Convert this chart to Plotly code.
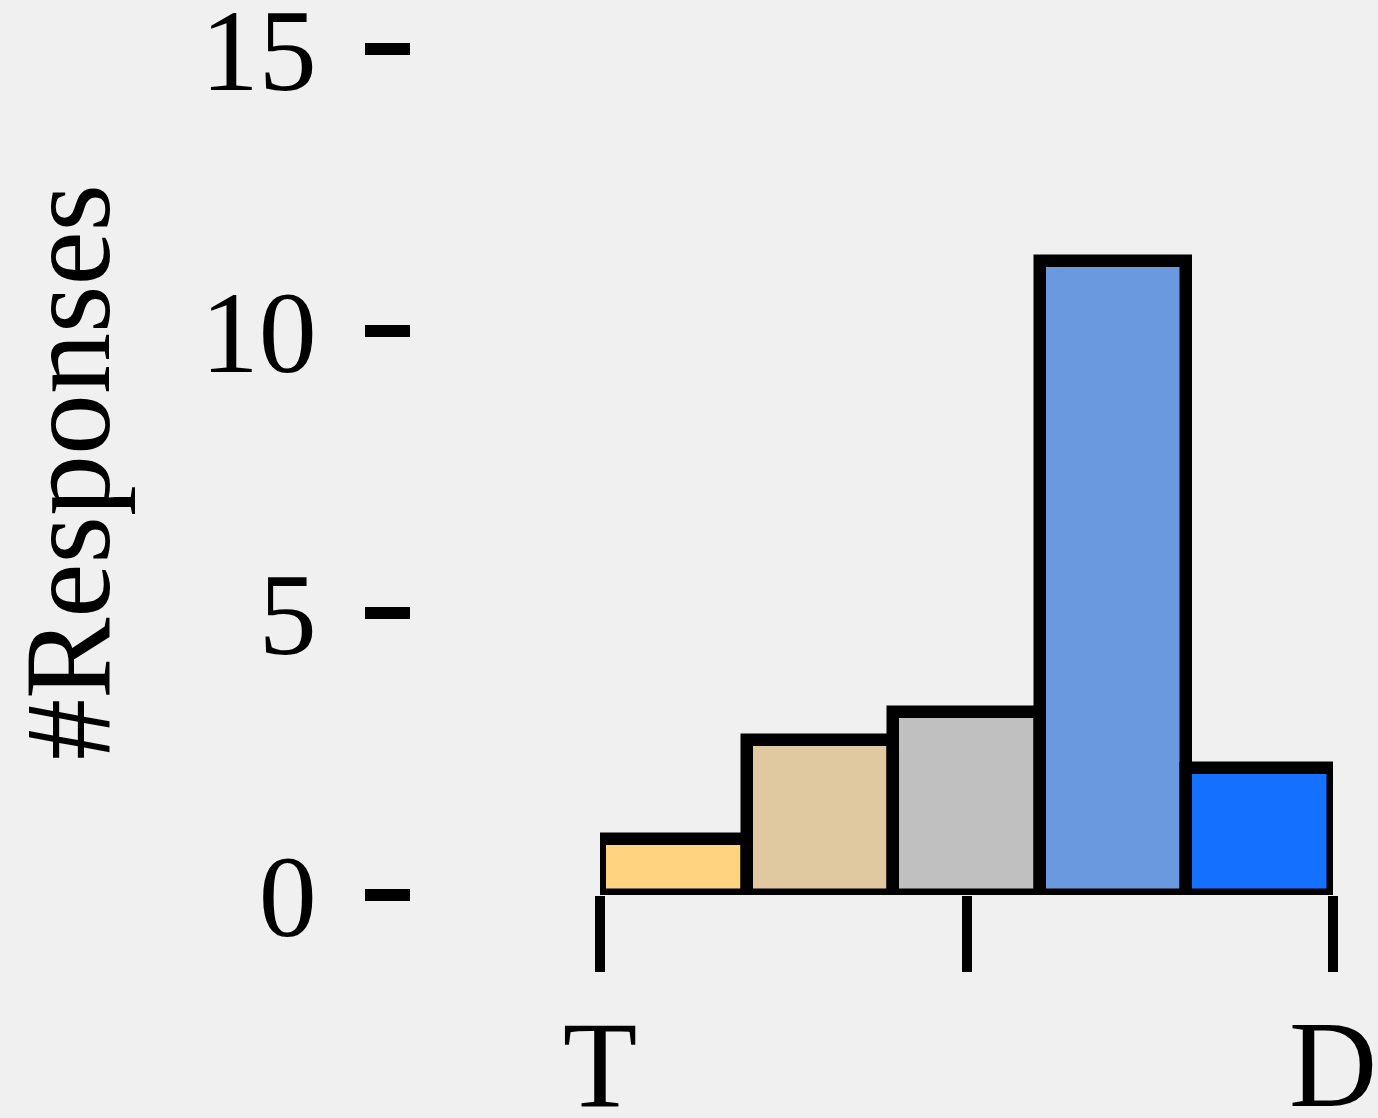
import plotly.graph_objects as go

# Response counts per rating bin, from "T" (left) to "D" (right)
bins = ["1", "2", "3", "4", "5"]
responses = [1.0, 2.75, 3.25, 11.25, 2.25]
bar_colors = ["#FFD37F", "#E0C9A0", "#C0C0C0", "#6A99E0", "#1471FF"]

# Axis ticks
y_ticks = [0, 5, 10, 15]
x_tick_vals = [0, 0.5, 1]
x_tick_text = ["T", "", "D"]

n = len(bins)
bar_width = 1.0 / n
bar_x = [(i + 0.5) * bar_width for i in range(n)]

FONT = "Liberation Serif"
BG = "#F0F0F0"

fig = go.Figure(
    go.Bar(
        x=bar_x,
        y=responses,
        width=bar_width,
        marker=dict(color=bar_colors, line=dict(color="black", width=12.5)),
        hoverinfo="y",
    )
)

fig.update_layout(
    width=1378,
    height=1118,
    margin=dict(l=410, r=45, t=49, b=223),
    paper_bgcolor=BG,
    plot_bgcolor=BG,
    font=dict(family=FONT, size=118, color="black"),
    showlegend=False,
    bargap=0,
    xaxis=dict(
        domain=[190 / 923, 1],
        range=[0, 1],
        tickvals=x_tick_vals,
        ticktext=x_tick_text,
        ticks="outside",
        ticklen=76,
        tickwidth=10,
        tickcolor="black",
        tickfont=dict(size=122),
        ticklabelstandoff=-12,
        showgrid=False,
        zeroline=False,
        showline=False,
        automargin=False,
        ticklabeloverflow="allow",
    ),
    yaxis=dict(
        anchor="free",
        position=0,
        range=[0, 15],
        tickvals=y_ticks,
        ticks="outside",
        ticklen=45,
        tickwidth=12,
        tickcolor="black",
        tickfont=dict(size=116),
        showgrid=False,
        zeroline=False,
        showline=False,
        automargin=False,
        ticklabeloverflow="allow",
        ticklabelstandoff=25,
        title=dict(text="#Responses", standoff=66, font=dict(size=122)),
    ),
)

fig.write_html("out.html")
